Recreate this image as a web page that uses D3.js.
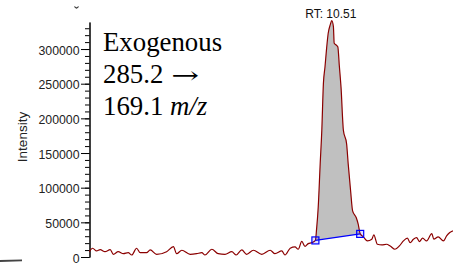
<!DOCTYPE html>
<html lang="en">
<head>
<meta charset="utf-8">
<title>Exogenous 285.2 to 169.1</title>
<script src="https://d3js.org/d3.v7.min.js"></script>
<style type="text/css">
	body { margin: 0; background: #fff; }
	svg { display: block; }
	.axis text { font-family: "Liberation Sans", Arial, sans-serif; font-size: 12.3px; fill: #222; }
	.axis path, .axis line { stroke: #000; }
</style>
</head>
<body>
<script type="text/javascript">

	// retention time (min) and intensity
	var rt = [9.906, 9.914, 9.924, 9.933, 9.945, 9.958, 9.966, 9.978, 9.991, 10.003,
		10.012, 10.024, 10.033, 10.049, 10.058, 10.074, 10.099, 10.116, 10.124, 10.137,
		10.158, 10.174, 10.187, 10.195, 10.212, 10.228, 10.245, 10.262, 10.273, 10.287,
		10.299, 10.316, 10.337, 10.358, 10.370, 10.387, 10.395, 10.408, 10.420, 10.428,
		10.437, 10.445, 10.453, 10.462, 10.471, 10.474, 10.478, 10.483, 10.487, 10.491,
		10.495, 10.499, 10.503, 10.508, 10.512, 10.516, 10.518, 10.523, 10.527, 10.531,
		10.535, 10.541, 10.549, 10.553, 10.559, 10.564, 10.573, 10.578, 10.583, 10.591,
		10.601, 10.612, 10.617, 10.626, 10.637, 10.649, 10.658, 10.670, 10.681, 10.691,
		10.701, 10.708, 10.716, 10.724, 10.731, 10.739, 10.749, 10.762, 10.767, 10.778,
		10.791, 10.799, 10.807, 10.815];
	var intensity = [7680, 12610, 8700, 10580, 7680, 10580, 3910, 7680, 4780, 6230,
		2900, 12610, 6230, 6230, 10140, 3910, 7680, 14930, 4780, 9710,
		3910, 4780, 6230, 2900, 11160, 4780, 3910, 7680, 2900, 10140,
		3910, 9710, 3910, 9710, 4780, 8700, 2900, 12610, 14490, 11160,
		22460, 15220, 19280, 20720, 23910, 40580, 71450, 134780, 182610, 250290,
		274350, 301010, 322750, 334780, 341010, 332320, 308260, 305800, 303340, 274350,
		245360, 182610, 163330, 134350, 95650, 66670, 56960, 47390, 33330, 28990,
		23190, 25650, 31880, 18410, 17390, 18410, 15940, 11160, 15940, 23190,
		27100, 20720, 25650, 27970, 22170, 27100, 23190, 33770, 25650, 28990,
		23190, 30430, 35220, 37680];

	var yMajor = [0, 50000, 100000, 150000, 200000, 250000, 300000];
	var yMinor = d3.range(0, 340000, 10000);

	// integrated peak
	var peakStart = 10.471;
	var peakEnd = 10.583;
	var apexLabel = "RT: 10.51";

	var titleName = "Exogenous";
	var precursor = "285.2";
	var product = "169.1 ";
	var titleUnit = "m/z";

	var w = 453;
	var h = 263;

	var data = rt.map(function(t, i) { return { rt: t, v: intensity[i] }; });

	var x = d3.scaleLinear().domain([9.905, 10.815]).range([89, 453]);
	var y = d3.scaleLinear().domain([0, 339000]).range([257, 22]);

	var svg = d3.select("body").append("svg")
		.attr("width", w)
		.attr("height", h);

	// minor ticks
	svg.append("g")
		.attr("class", "axis")
		.attr("transform", "translate(89.5,0)")
		.call(d3.axisLeft(y).tickValues(yMinor).tickSize(4.5).tickFormat("").tickSizeOuter(0));

	// major ticks + labels
	svg.append("g")
		.attr("class", "axis")
		.attr("transform", "translate(89.5,0)")
		.call(d3.axisLeft(y).tickValues(yMajor).tickSize(8.5).tickPadding(1.5).tickSizeOuter(0).tickFormat(d3.format("d")))
		.selectAll("text").attr("dy", "0.42em");

	svg.append("text")
		.attr("transform", "translate(27,137) rotate(-90)")
		.attr("text-anchor", "middle")
		.style("font-family", "Liberation Sans, Arial, sans-serif")
		.style("font-size", "13.5px")
		.style("fill", "#222")
		.text("Intensity");

	// peak area
	var peakPts = data.filter(function(d) { return d.rt >= peakStart && d.rt <= peakEnd; });
	var line = d3.line()
		.curve(d3.curveMonotoneX)
		.x(function(d) { return x(d.rt); })
		.y(function(d) { return y(d.v); });

	svg.append("path")
		.attr("d", line(peakPts) + "Z")
		.style("fill", "#c0c0c0")
		.style("stroke", "none");

	// chromatogram trace
	svg.append("path")
		.datum(data)
		.attr("d", line)
		.style("fill", "none")
		.style("stroke", "#8b0000")
		.style("stroke-width", 1.2);

	// baseline between peak start and end
	var ends = [peakPts[0], peakPts[peakPts.length - 1]];
	svg.append("path")
		.datum(ends)
		.attr("d", d3.line().x(function(d) { return x(d.rt); }).y(function(d) { return y(d.v); }))
		.style("fill", "none")
		.style("stroke", "#0000ff")
		.style("stroke-width", 1.2);

	svg.selectAll("rect.mark")
		.data(ends)
		.enter()
		.append("rect")
		.attr("class", "mark")
		.attr("x", function(d) { return x(d.rt) - 3.5; })
		.attr("y", function(d) { return y(d.v) - 3.5; })
		.attr("width", 7)
		.attr("height", 7)
		.style("fill", "rgba(0,0,255,0.12)")
		.style("stroke", "#0000ff")
		.style("stroke-width", 1.2);

	// apex label
	var apex = d3.greatest(data, function(d) { return d.v; });
	svg.append("text")
		.attr("x", x(apex.rt) - 1)
		.attr("y", 18)
		.attr("text-anchor", "middle")
		.style("font-family", "Liberation Sans, Arial, sans-serif")
		.style("font-size", "12px")
		.style("fill", "#111")
		.text(apexLabel);

	// transition label
	var serif = "Liberation Serif, Times New Roman, serif";
	var tx = 103;
	svg.append("text")
		.attr("x", tx).attr("y", 50.7)
		.style("font-family", serif).style("font-size", "26.8px")
		.text(titleName);
	var l2 = svg.append("text")
		.attr("x", tx).attr("y", 83)
		.style("font-family", serif).style("font-size", "26.8px")
		.text(precursor);
	var arrowX = tx + l2.node().getComputedTextLength() + 8;
	svg.append("text")
		.attr("transform", "translate(" + arrowX + ",83) scale(1.45,1)")
		.style("font-family", "DejaVu Serif, serif")
		.style("font-size", "23px")
		.style("font-weight", "300")
		.text("\u2192");
	var l3 = svg.append("text")
		.attr("x", tx).attr("y", 114.5)
		.style("font-family", serif).style("font-size", "26.8px")
		.text(product);
	l3.append("tspan").style("font-style", "italic").text(titleUnit);

	// cropped leftovers at the edges of the original figure
	svg.append("path")
		.attr("d", "M74.5,6.5 Q76.5,9.5 78.5,6.5")
		.style("fill", "none")
		.style("stroke", "#333")
		.style("stroke-width", 1.3);
	svg.append("path")
		.attr("d", "M0,261 L22,260.3")
		.style("fill", "none")
		.style("stroke", "#444")
		.style("stroke-width", 1.8);

</script>
</body>
</html>
